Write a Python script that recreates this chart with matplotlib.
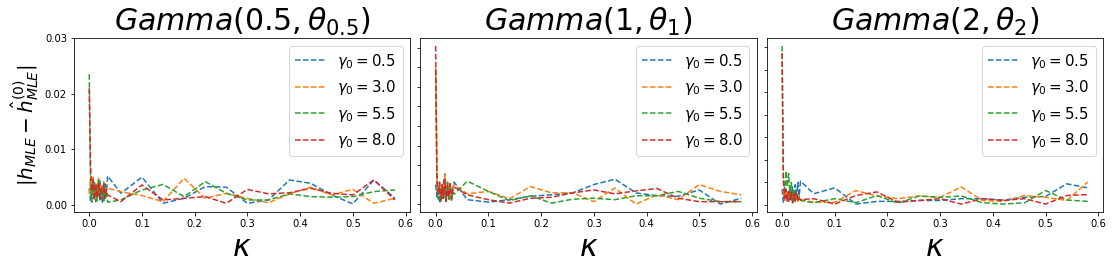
import numpy as np
import matplotlib
matplotlib.use('Agg')
import matplotlib.pyplot as plt
from matplotlib.ticker import MaxNLocator

# kappa grid: dense near zero, then coarse
kappa = [0.0, 0.0025, 0.005, 0.0075, 0.01, 0.0125, 0.015, 0.0175, 0.02, 0.0225,
         0.025, 0.0275, 0.03, 0.0325, 0.035,
         0.06, 0.10, 0.14, 0.18, 0.22, 0.26, 0.30, 0.34, 0.38, 0.42, 0.46, 0.50, 0.54, 0.58]

gamma0 = [0.5, 3.0, 5.5, 8.0]
titles = [r'$Gamma(0.5, \theta_{0.5})$', r'$Gamma(1, \theta_1)$', r'$Gamma(2, \theta_2)$']

# Gamma(0.5)
g05_blue = [0.0030, 0.0008, 0.0035, 0.0012, 0.0040, 0.0006, 0.0028, 0.0015, 0.0045, 0.0010, 0.0032, 0.0005, 0.0038, 0.0020, 0.0052,
            0.0021, 0.0050, 0.0003, 0.0012, 0.0033, 0.0032, 0.0003, 0.0009, 0.0045, 0.0039, 0.0018, 0.0002, 0.0045, 0.0012]
g05_orange = [0.0020, 0.0045, 0.0015, 0.0050, 0.0010, 0.0038, 0.0022, 0.0048, 0.0012, 0.0035, 0.0018, 0.0042, 0.0025, 0.0030, 0.0030,
              0.0024, 0.0017, 0.0006, 0.0048, 0.0012, 0.0021, 0.0012, 0.0004, 0.0020, 0.0032, 0.0018, 0.0028, 0.0003, 0.0012]
g05_green = [0.0235, 0.0030, 0.0005, 0.0040, 0.0015, 0.0035, 0.0008, 0.0045, 0.0012, 0.0030, 0.0005, 0.0038, 0.0010, 0.0025, 0.0005,
             0.0009, 0.0027, 0.0037, 0.0015, 0.0042, 0.0021, 0.0009, 0.0009, 0.0020, 0.0015, 0.0014, 0.0015, 0.0024, 0.0027]
g05_red = [0.0210, 0.0070, 0.0025, 0.0045, 0.0010, 0.0035, 0.0015, 0.0040, 0.0008, 0.0030, 0.0020, 0.0038, 0.0012, 0.0028, 0.0018,
           0.0006, 0.0036, 0.0009, 0.0012, 0.0015, 0.0003, 0.0028, 0.0020, 0.0022, 0.0030, 0.0021, 0.0018, 0.0045, 0.0009]

# Gamma(1)
g1_blue = [0.0040, 0.0015, 0.0035, 0.0005, 0.0030, 0.0012, 0.0045, 0.0062, 0.0010, 0.0035, 0.0008, 0.0040, 0.0015, 0.0030, 0.0045,
           0.0009, 0.0004, 0.0009, 0.0016, 0.0019, 0.0023, 0.0040, 0.0051, 0.0023, 0.0017, 0.0016, 0.0029, 0.0000, 0.0012]
g1_orange = [0.0280, 0.0050, 0.0020, 0.0040, 0.0010, 0.0035, 0.0015, 0.0060, 0.0025, 0.0045, 0.0010, 0.0040, 0.0020, 0.0035, 0.0040,
             0.0021, 0.0026, 0.0011, 0.0036, 0.0023, 0.0023, 0.0005, 0.0033, 0.0000, 0.0019, 0.0009, 0.0040, 0.0026, 0.0019]
g1_green = [0.0275, 0.0030, 0.0010, 0.0035, 0.0005, 0.0040, 0.0012, 0.0030, 0.0008, 0.0045, 0.0010, 0.0035, 0.0005, 0.0025, 0.0020,
            0.0047, 0.0026, 0.0007, 0.0017, 0.0002, 0.0010, 0.0012, 0.0009, 0.0017, 0.0017, 0.0026, 0.0012, 0.0005, 0.0005]
g1_red = [0.0324, 0.0060, 0.0020, 0.0045, 0.0008, 0.0040, 0.0012, 0.0050, 0.0005, 0.0038, 0.0015, 0.0042, 0.0010, 0.0030, 0.0035,
          0.0019, 0.0009, 0.0002, 0.0012, 0.0014, 0.0023, 0.0029, 0.0021, 0.0027, 0.0032, 0.0012, 0.0005, 0.0005, 0.0005]

# Gamma(2)
g2_blue = [0.0035, 0.0005, 0.0040, 0.0015, 0.0030, 0.0008, 0.0035, 0.0012, 0.0040, 0.0010, 0.0045, 0.0015, 0.0050, 0.0020, 0.0053,
           0.0025, 0.0038, 0.0002, 0.0008, 0.0008, 0.0010, 0.0010, 0.0014, 0.0014, 0.0011, 0.0017, 0.0019, 0.0047, 0.0038]
g2_orange = [0.0030, 0.0030, 0.0010, 0.0035, 0.0008, 0.0030, 0.0012, 0.0025, 0.0005, 0.0030, 0.0010, 0.0020, 0.0008, 0.0015, 0.0012,
             0.0006, 0.0006, 0.0032, 0.0020, 0.0014, 0.0020, 0.0017, 0.0040, 0.0010, 0.0008, 0.0021, 0.0017, 0.0010, 0.0051]
g2_green = [0.0353, 0.0060, 0.0030, 0.0075, 0.0040, 0.0070, 0.0020, 0.0050, 0.0010, 0.0035, 0.0008, 0.0025, 0.0012, 0.0020, 0.0010,
            0.0005, 0.0014, 0.0005, 0.0021, 0.0004, 0.0020, 0.0017, 0.0020, 0.0005, 0.0002, 0.0005, 0.0032, 0.0011, 0.0008]
g2_red = [0.0337, 0.0050, 0.0015, 0.0035, 0.0008, 0.0030, 0.0012, 0.0028, 0.0005, 0.0025, 0.0010, 0.0030, 0.0008, 0.0015, 0.0012,
          0.0014, 0.0002, 0.0021, 0.0029, 0.0006, 0.0010, 0.0014, 0.0002, 0.0014, 0.0010, 0.0014, 0.0002, 0.0021, 0.0023]

panels = [
    [g05_blue, g05_orange, g05_green, g05_red],
    [g1_blue, g1_orange, g1_green, g1_red],
    [g2_blue, g2_orange, g2_green, g2_red],
]

fig, axes = plt.subplots(1, 3, figsize=(1112 / 72, 268 / 72), dpi=72)
fig.subplots_adjust(left=0.0665, right=0.992, top=0.858, bottom=0.209, wspace=0.03)

for i, ax in enumerate(axes):
    for g, vals in zip(gamma0, panels[i]):
        ax.plot(kappa, vals, linestyle='--', label=r'$\gamma_0 = %.1f$' % g)
    ax.set_title(titles[i], fontsize=30)
    ax.set_xlabel(r'$\kappa$', fontsize=30)
    ax.tick_params(labelsize=10)
    ax.legend(fontsize=15, loc='upper right')
    if i > 0:
        ax.yaxis.set_major_locator(MaxNLocator(nbins=9))
        ax.tick_params(labelleft=False)

axes[0].set_ylim(-0.00126, 0.03)
axes[0].set_yticks([0.0, 0.01, 0.02, 0.03])
axes[0].set_ylabel(r'$|h_{MLE} - \hat{h}^{(0)}_{MLE}|$', fontsize=20)

plt.savefig('out.png', dpi=72)
plt.close()
